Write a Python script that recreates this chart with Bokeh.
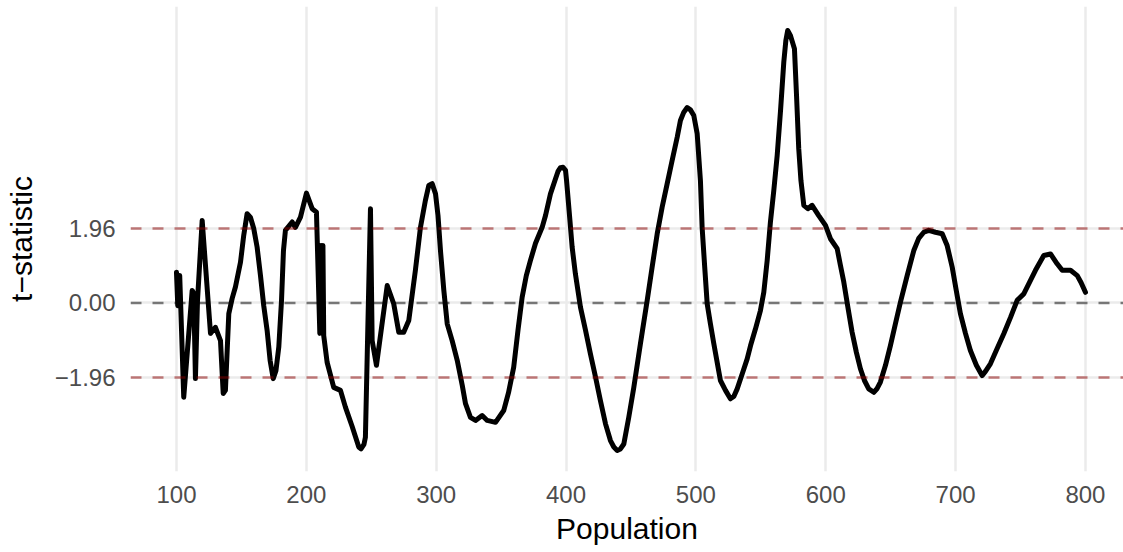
from bokeh.plotting import figure
from bokeh.models import Span, FixedTicker, Range1d
from bokeh.embed import file_html
from bokeh.resources import INLINE

population = [
    100, 101, 102.5, 105.6, 112.1, 113.3, 114.6, 116.2, 119.8, 126.2,
    130.0, 133.9, 136.0, 137.7, 140.3, 142.9, 145.4, 149.3, 151.8, 154.4,
    157.0, 159.5, 162.1, 164.7, 167.2, 169.8, 172.1, 174.5, 176.6, 178.8,
    180.9, 182.4, 183.9, 189.1, 191.6, 195.5, 200.1, 204.5, 207.8, 210.4,
    211.3, 212.0, 212.8, 213.4, 216.0, 221.1, 226.3, 230.1, 235.3, 240.4,
    242.1, 244.4, 245.5, 249.4, 250.7, 254.0, 262.3, 267.3, 271.2, 275.0,
    278.9, 284.0, 287.9, 291.7, 294.3, 296.9, 299.5, 301.4, 303.3, 305.9,
    308.5, 312.3, 316.2, 320.1, 322.6, 326.4, 330.3, 335.4, 339.3, 345.7,
    352.0, 355.7, 359.7, 363.0, 366.2, 369.4, 372.6, 376.5, 381.6, 384.2,
    388.0, 391.9, 393.8, 395.7, 397.7, 399.6, 400.4, 403.0, 404.7, 407.2,
    411.1, 415.0, 418.8, 422.7, 426.5, 430.4, 434.2, 436.8, 439.4, 441.9,
    444.5, 448.3, 452.2, 457.3, 462.5, 466.3, 470.2, 474.0, 477.9, 481.7,
    485.6, 488.1, 490.7, 493.3, 495.8, 498.4, 501.0, 503.5, 504.8, 506.8,
    508.7, 511.2, 513.8, 518.9, 522.8, 526.6, 529.2, 531.8, 535.7, 539.5,
    542.1, 545.9, 549.7, 552.3, 554.9, 557.4, 560.0, 562.6, 565.2, 567.7,
    569.3, 570.7, 572.8, 575.9, 577.5, 579.2, 580.9, 583.1, 586.2, 589.5,
    594.6, 599.8, 603.6, 608.8, 611.3, 613.9, 617.1, 620.3, 623.6, 626.7,
    629.8, 633.1, 637.0, 639.6, 642.1, 646.0, 649.8, 653.7, 657.5, 662.7,
    667.8, 671.6, 675.5, 679.3, 684.5, 689.7, 693.5, 697.4, 700.5, 703.7,
    707.6, 711.4, 716.0, 720.4, 723.0, 726.8, 732.0, 737.1, 742.3, 747.4,
    752.5, 756.9, 761.5, 767.9, 773.1, 778.2, 782.1, 788.5, 793.7, 796.6,
    800,
]

t_stat = [
    0.81, -0.07, 0.72, -2.48, 0.33, 0.25, -1.99, 0.07, 2.17, -0.80,
    -0.64, -0.99, -2.38, -2.30, -0.28, 0.12, 0.42, 1.07, 1.78, 2.35,
    2.25, 1.96, 1.47, 0.72, -0.07, -0.72, -1.51, -1.99, -1.78, -1.16,
    0.07, 1.38, 1.91, 2.13, 1.99, 2.26, 2.89, 2.48, 2.39, -0.80,
    1.51, -0.72, 1.51, -0.86, -1.56, -2.22, -2.30, -2.74, -3.25, -3.79,
    -3.84, -3.72, -3.53, 2.48, -0.99, -1.64, 0.46, -0.02, -0.77, -0.77,
    -0.46, 0.86, 1.99, 2.70, 3.09, 3.14, 2.87, 2.30, 1.38, 0.33,
    -0.55, -0.99, -1.51, -2.17, -2.65, -3.01, -3.09, -2.96, -3.09, -3.14,
    -2.83, -2.36, -1.69, -0.72, 0.15, 0.72, 1.12, 1.57, 1.99, 2.30,
    2.87, 3.27, 3.46, 3.56, 3.57, 3.49, 3.22, 2.17, 1.47, 0.77,
    -0.11, -0.72, -1.34, -1.95, -2.57, -3.18, -3.62, -3.79, -3.88, -3.84,
    -3.71, -3.01, -2.22, -1.07, 0.07, 0.94, 1.82, 2.52, 3.14, 3.75,
    4.36, 4.80, 5.02, 5.14, 5.08, 4.93, 4.45, 3.22, 1.99, 0.94,
    -0.02, -0.55, -1.07, -2.04, -2.30, -2.52, -2.46, -2.26, -1.86, -1.47,
    -1.12, -0.68, -0.20, 0.28, 1.12, 2.13, 2.96, 3.88, 5.07, 6.34,
    6.91, 7.17, 7.04, 6.69, 5.46, 4.06, 3.22, 2.57, 2.48, 2.57,
    2.30, 2.04, 1.69, 1.43, 0.99, 0.55, -0.12, -0.77, -1.30, -1.73,
    -2.04, -2.26, -2.35, -2.25, -2.08, -1.64, -1.12, -0.54, 0.02, 0.72,
    1.38, 1.70, 1.86, 1.91, 1.86, 1.82, 1.51, 0.94, 0.33, -0.28,
    -0.80, -1.25, -1.64, -1.91, -1.80, -1.60, -1.20, -0.81, -0.38, 0.07,
    0.24, 0.54, 0.86, 1.25, 1.29, 1.03, 0.86, 0.86, 0.72, 0.54,
    0.28,
]

x_ticks = [100, 200, 300, 400, 500, 600, 700, 800]
y_ticks = [-1.96, 0.0, 1.96]
y_tick_labels = ["\u22121.96", "0.00", "1.96"]
critical_values = [-1.96, 1.96]
zero_value = [0.0]

FONT = "Liberation Sans"

p = figure(width=1123, height=552, output_backend="svg", toolbar_location=None,
           x_range=Range1d(64.6, 829.3), y_range=Range1d(-4.434, 7.80),
           min_border_left=130, min_border_right=0, min_border_top=6,
           min_border_bottom=81)
p.outline_line_color = None
p.background_fill_color = "white"
p.border_fill_color = "white"

# grids
p.xgrid.ticker = FixedTicker(ticks=x_ticks)
p.ygrid.ticker = FixedTicker(ticks=y_ticks)
for g in (p.xgrid, p.ygrid):
    g.grid_line_color = "#EBEBEB"
    g.grid_line_width = 2.5
    g.minor_grid_line_color = None

# axes
p.xaxis.ticker = FixedTicker(ticks=x_ticks)
p.yaxis.ticker = FixedTicker(ticks=y_ticks)
p.yaxis.major_label_overrides = {t: l for t, l in zip(y_ticks, y_tick_labels)}
for ax in (p.xaxis, p.yaxis):
    ax.axis_line_color = None
    ax.major_tick_line_color = None
    ax.minor_tick_line_color = None
    ax.major_tick_out = 0
    ax.major_tick_in = 0
    ax.major_label_text_font = FONT
    ax.major_label_text_font_size = "24px"
    ax.major_label_text_color = "#4D4D4D"
    ax.axis_label_text_font = FONT
    ax.axis_label_text_font_size = "30px"
    ax.axis_label_text_font_style = "normal"
    ax.axis_label_text_color = "black"

p.xaxis.axis_label = "Population"
p.yaxis.axis_label = "t\u2212statistic"
p.xaxis.major_label_standoff = 14
p.xaxis.axis_label_standoff = 6
p.yaxis.major_label_standoff = 15
p.yaxis.axis_label_standoff = 14

# reference lines
for v in critical_values:
    p.add_layout(Span(location=v, dimension="width", line_color="#8B0000",
                      line_alpha=0.5, line_width=2.5, line_dash="11 11"))
for v in zero_value:
    p.add_layout(Span(location=v, dimension="width", line_color="black",
                      line_alpha=0.5, line_width=2.5, line_dash="11 11"))

p.line(population, t_stat, line_color="black", line_width=5,
       line_join="round", line_cap="round")

open("out.html", "w").write(file_html(p, INLINE))
